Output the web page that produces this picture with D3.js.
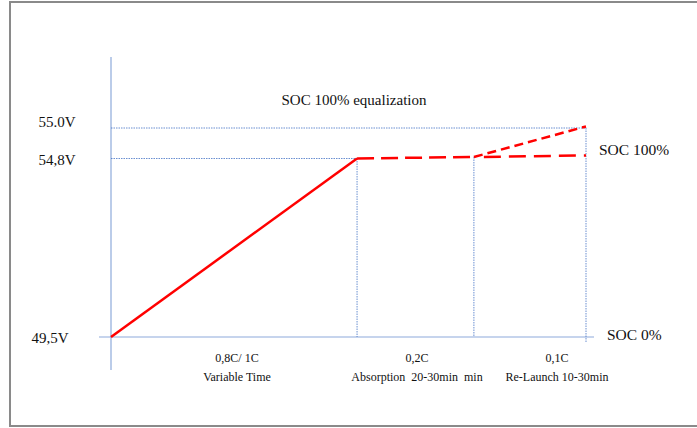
<!DOCTYPE html>
<html><head><meta charset="utf-8">
<script src="https://cdn.jsdelivr.net/npm/d3@7"></script>
<style>body{margin:0;background:#fff}svg{display:block}text{white-space:pre}</style>
</head><body><svg id="c" width="697" height="428"></svg>
<script>
// data
const voltLevels = [49.5, 54.8, 55.0];
const voltLabels = ["49,5V", "54,8V", "55.0V"];
const phaseBounds = [0, 51.8, 76.4, 100];      // time (% of cycle) at phase boundaries
const phaseRates = ["0,8C/ 1C", "0,2C", "0,1C"];
const phaseNames = ["Variable Time", "Absorption  20-30min  min", "Re-Launch 10-30min"];
const bulkT = [0, 51.8], bulkV = [49.5, 54.8];
const absorbT = [51.8, 76.4], absorbV = [54.8, 54.81];
const equalT = [76.4, 100], equalV = [54.81, 55.01];
const floatT = [78.5, 100], floatV = [54.81, 54.82];

const FONT = "'Liberation Serif', 'Times New Roman', serif";
const svg = d3.select("#c");
const x = d3.scaleLinear().domain([0, 100]).range([111, 586]);
const y = d3.scaleLinear().domain(voltLevels).range([337, 158.5, 128]);

// frame
svg.append("rect").attr("x",10).attr("y",2).attr("width",700).attr("height",424)
  .attr("fill","none").attr("stroke","#8a8a8a").attr("stroke-width",2);

const blue = "#8eaadb";
// axes
svg.append("line").attr("x1",x(0)).attr("x2",x(0)).attr("y1",57).attr("y2",370).attr("stroke",blue).attr("stroke-width",1.2);
svg.append("line").attr("x1",99).attr("x2",594).attr("y1",y(49.5)).attr("y2",y(49.5)).attr("stroke",blue).attr("stroke-width",1.2);

// horizontal dotted guides
svg.append("line").attr("x1",x(0)).attr("x2",x(100)).attr("y1",y(55.0)).attr("y2",y(55.0))
  .attr("stroke","#4472c4").attr("stroke-width",0.8).attr("stroke-dasharray","1.5,1");
svg.append("line").attr("x1",x(0)).attr("x2",x(phaseBounds[1])).attr("y1",y(54.8)).attr("y2",y(54.8))
  .attr("stroke","#4472c4").attr("stroke-width",0.8).attr("stroke-dasharray","1.5,1");
// vertical dotted guides
const vTop = [y(54.8), y(54.81), y(55.0)];
phaseBounds.slice(1).forEach((t,i)=>{
  svg.append("line").attr("x1",x(t)).attr("x2",x(t)).attr("y1",vTop[i]).attr("y2", i===2 ? 342 : y(49.5))
    .attr("stroke","#4472c4").attr("stroke-width",0.8).attr("stroke-dasharray","1.5,1");
});

// red lines
const line = d3.line().x(d=>x(d[0])).y(d=>y(d[1]));
const red = "#ff0000";
svg.append("path").attr("d", line(d3.zip(bulkT,bulkV))).attr("fill","none").attr("stroke",red).attr("stroke-width",2.5);
svg.append("path").attr("d", line(d3.zip(absorbT,absorbV))).attr("fill","none").attr("stroke",red).attr("stroke-width",2.5).attr("stroke-dasharray","17,7");
svg.append("path").attr("d", line(d3.zip(equalT,equalV))).attr("fill","none").attr("stroke",red).attr("stroke-width",2.5).attr("stroke-dasharray","9,5");
svg.append("path").attr("d", line(d3.zip(floatT,floatV))).attr("fill","none").attr("stroke",red).attr("stroke-width",2.5).attr("stroke-dasharray","17,8");

function txt(xp, yp, s, size, anchor){
  return svg.append("text").attr("x",xp).attr("y",yp).attr("dy","0.35em")
    .attr("text-anchor",anchor||"start").attr("font-family",FONT).attr("font-size",size)
    .attr("fill","#111").text(s);
}
// y labels
const yLabX = [50, 57, 57];
voltLevels.forEach((v,i)=>{ txt(yLabX[i], i===2 ? y(v)-6 : y(v)+1, voltLabels[i], 15, "middle"); });

// title and right labels
txt(354, 100, "SOC 100% equalization", 15, "middle");
txt(599, 150, "SOC 100%", 15.5);
txt(607, 335, "SOC 0%", 15.5);

// phase labels
const centers = [237, 417, 557];
phaseRates.forEach((r,i)=>{
  txt(centers[i], 358, r, 12, "middle");
  txt(centers[i], 377, phaseNames[i], 12, "middle");
});
</script></body></html>
